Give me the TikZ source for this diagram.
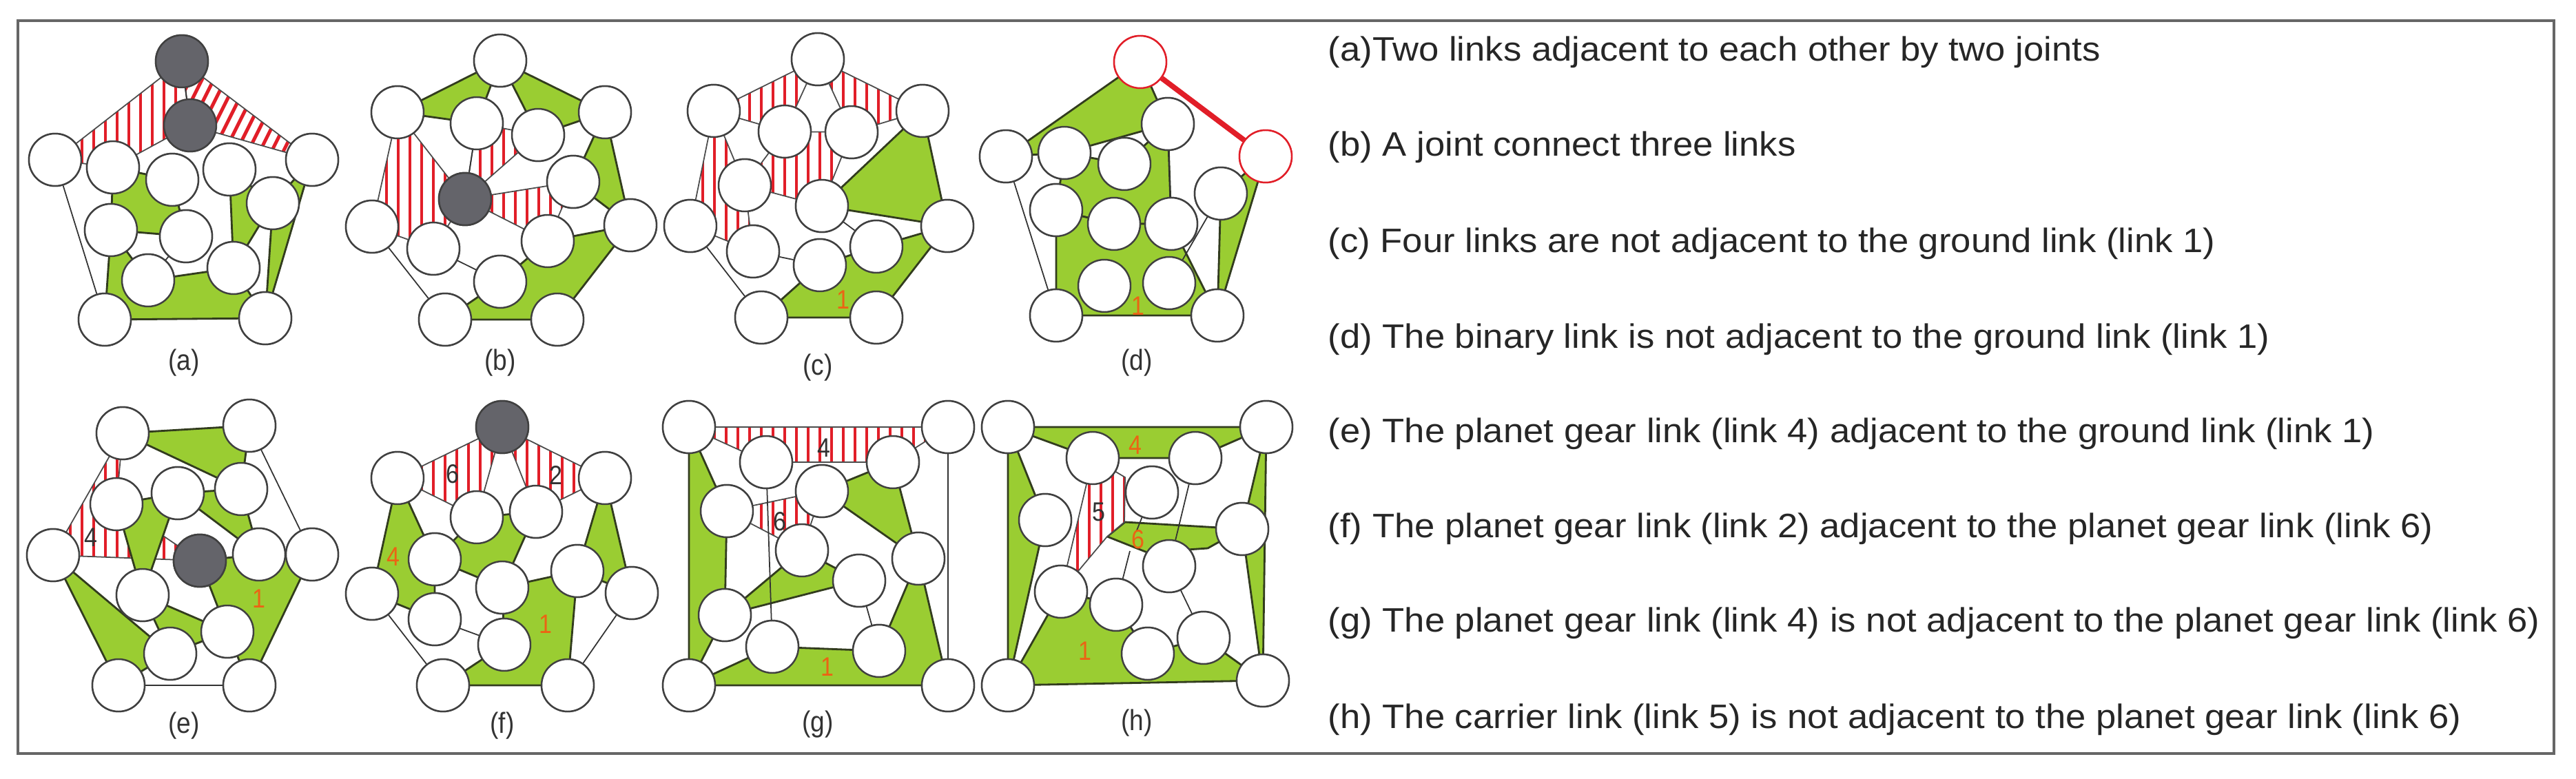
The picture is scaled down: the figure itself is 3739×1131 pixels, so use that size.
\documentclass[tikz,border=0pt]{standalone}
\usepackage{fontspec}
\setmainfont{Liberation Sans}
\newfontfamily\capfont{Liberation Sans}[FakeStretch=0.88]
\newfontfamily\txtfont{Liberation Sans}[FakeStretch=1.07]
\begin{document}
\definecolor{lgreen}{RGB}{154,205,50}
\definecolor{dkgreen}{RGB}{50,60,30}
\definecolor{hred}{RGB}{225,30,40}
\definecolor{jgray}{RGB}{100,100,106}
\definecolor{numor}{RGB}{235,100,20}
\newcommand\hpoly[1]{%
  \fill[white] #1;
  \begin{scope}\clip #1;
    \foreach \x in {0,17,...,3740} \draw[hline] (\x,0)--(\x,1131);
  \end{scope}
  \draw[hedge] #1;}
\newcommand\dpoly[1]{%
  \fill[white] #1;
  \begin{scope}\clip #1;
    \foreach \x in {0,17,...,1200} \draw[hline] (\x,600)--(\x+400,-200);
  \end{scope}
  \draw[hedge] #1;}
\begin{tikzpicture}[x=0.1mm,y=-0.1mm,
  jt/.style={circle,draw=black!75,fill=white,line width=0.7pt,minimum size=7.6mm,inner sep=0pt},
  gj/.style={jt,fill=jgray},
  rj/.style={jt,draw=hred},
  link/.style={fill=lgreen,draw=dkgreen,line width=0.8pt,line join=round},
  hline/.style={draw=hred,line width=1.4pt},
  hedge/.style={draw=black!70,line width=0.5pt},
  bin/.style={draw=black!80,line width=0.5pt},
  lab/.style={font=\fontsize{12}{14}\selectfont\capfont,text=black!80},
  num/.style={font=\fontsize{11}{12}\selectfont\capfont,text=numor},
  bnum/.style={font=\fontsize{11}{12}\selectfont\capfont,text=black!80},
  txt/.style={font=\fontsize{14}{16}\selectfont\txtfont,text=black!85,anchor=west,inner sep=0pt}]
\useasboundingbox (0,0) rectangle (3739,1131);
\draw[black!60,line width=1.2pt] (26,30) rectangle (3707,1094);
% ================= (a)
\path (264,89) node[gj] (a1) {} (276,182) node[gj] (a2) {} (80,232) node[jt] (a3) {}
 (164,243) node[jt] (a4) {} (250,261) node[jt] (a5) {} (333,246) node[jt] (a6) {}
 (453,232) node[jt] (a7) {} (396,295) node[jt] (a8) {} (161,334) node[jt] (a9) {}
 (270,343) node[jt] (a10) {} (215,407) node[jt] (a11) {} (339,389) node[jt] (a12) {}
 (152,464) node[jt] (a13) {} (385,462) node[jt] (a14) {};
\hpoly{(a1.center)--(a3.center)--(a4.center)--(a2.center)--cycle}
\dpoly{(a1.center)--(a7.center)--(a2.center)--cycle}
\draw[link] (a4.center)--(a5.center)--(a10.center)--(a9.center)--cycle;
\draw[link] (a6.center)--(a8.center)--(a12.center)--cycle;
\draw[link] (a7.center)--(a14.center)--(a8.center)--cycle;
\draw[link] (a13.center)--(a9.center)--(a11.center)--(a12.center)--(a14.center)--cycle;
\draw[bin] (a3)--(a13); \draw[bin] (a10)--(a11); \draw[bin] (a1)--(a2);
\path (a1) node[gj] {} (a2) node[gj] {};
\foreach \n in {3,...,14} \node[jt] at (a\n) {};
\node[lab] (la) at (267,527) {(a)};
% ================= (b)
\path (726,88) node[jt] (b1) {} (577,163) node[jt] (b2) {} (878,163) node[jt] (b3) {}
 (692,179) node[jt] (b4) {} (781,196) node[jt] (b5) {} (675,289) node[gj] (b6) {}
 (832,264) node[jt] (b7) {} (540,329) node[jt] (b8) {} (629,361) node[jt] (b9) {}
 (795,350) node[jt] (b10) {} (726,409) node[jt] (b11) {} (646,464) node[jt] (b12) {}
 (809,464) node[jt] (b13) {} (915,327) node[jt] (b14) {};
\draw[link] (b2.center)--(b1.center)--(b4.center)--cycle;
\draw[link] (b1.center)--(b3.center)--(b5.center)--cycle;
\draw[link] (b3.center)--(b14.center)--(b7.center)--cycle;
\draw[link] (b11.center)--(b10.center)--(b14.center)--(b13.center)--(b12.center)--cycle;
\hpoly{(b2.center)--(b6.center)--(b9.center)--(b8.center)--cycle}
\hpoly{(b4.center)--(b5.center)--(b6.center)--cycle}
\hpoly{(b6.center)--(b7.center)--(b10.center)--cycle}
\draw[bin] (b8)--(b12); \draw[bin] (b9)--(b11); \draw[bin] (b4)--(b6);
\foreach \n in {1,...,14} \node[jt] at (b\n) {};
\node[gj] at (b6) {};
\node[lab] (lb) at (726,527) {(b)};
% ================= (c)
\path (1187,86) node[jt] (c1) {} (1036,161) node[jt] (c2) {} (1339,161) node[jt] (c3) {}
 (1139,191) node[jt] (c4) {} (1236,192) node[jt] (c5) {} (1081,269) node[jt] (c6) {}
 (1193,299) node[jt] (c7) {} (1002,328) node[jt] (c8) {} (1375,328) node[jt] (c9) {}
 (1093,365) node[jt] (c10) {} (1272,358) node[jt] (c11) {} (1190,385) node[jt] (c12) {}
 (1105,461) node[jt] (c13) {} (1272,461) node[jt] (c14) {};
\hpoly{(c1.center)--(c2.center)--(c4.center)--cycle}
\hpoly{(c1.center)--(c3.center)--(c5.center)--cycle}
\hpoly{(c2.center)--(c6.center)--(c10.center)--(c8.center)--cycle}
\hpoly{(c4.center)--(c5.center)--(c7.center)--(c6.center)--cycle}
\draw[link] (c3.center)--(c9.center)--(c7.center)--cycle;
\draw[link] (c13.center)--(c12.center)--(c11.center)--(c9.center)--(c14.center)--cycle;
\draw[bin] (c8)--(c13); \draw[bin] (c10)--(c12); \draw[bin] (c7)--(c11);
\foreach \n in {1,...,14} \node[jt] at (c\n) {};
\node[num] at (1224,435) {1};
\node[lab] (lc) at (1187,534) {(c)};
% ================= (d)
\path (1655,90) node[rj] (d1) {} (1837,227) node[rj] (d2) {} (1695,180) node[jt] (d3) {}
 (1632,238) node[jt] (d4) {} (1545,222) node[jt] (d5) {} (1460,227) node[jt] (d6) {}
 (1533,305) node[jt] (d7) {} (1617,325) node[jt] (d8) {} (1700,325) node[jt] (d9) {}
 (1772,281) node[jt] (d10) {} (1603,415) node[jt] (d11) {} (1697,411) node[jt] (d12) {}
 (1533,458) node[jt] (d13) {} (1767,458) node[jt] (d14) {};
\draw[link] (d1.center)--(d3.center)--(d5.center)--(d6.center)--cycle;
\draw[link] (d5.center)--(d4.center)--(d3.center)--(d9.center)--(d8.center)--(d7.center)--cycle;
\draw[link] (d13.center)--(d7.center)--(d8.center)--(d9.center)--(d14.center)--cycle;
\draw[link] (d2.center)--(d10.center)--(d14.center)--cycle;
\draw[hred,line width=2.2pt] (d1)--(d2);
\draw[bin] (d6)--(d13); \draw[bin] (d10)--(d12); \draw[bin] (d3)--(d9);
\foreach \n in {3,...,14} \node[jt] at (d\n) {};
\path (d1) node[rj] {} (d2) node[rj] {};
\node[num] at (1652,444) {1};
\node[lab] (ld) at (1650,527) {(d)};
% ================= (e)
\path (178,629) node[jt] (e1) {} (362,618) node[jt] (e2) {} (169,732) node[jt] (e3) {}
 (258,716) node[jt] (e4) {} (350,710) node[jt] (e5) {} (77,806) node[jt] (e6) {}
 (290,814) node[gj] (e7) {} (376,805) node[jt] (e8) {} (453,805) node[jt] (e9) {}
 (207,864) node[jt] (e10) {} (330,917) node[jt] (e11) {} (247,949) node[jt] (e12) {}
 (172,995) node[jt] (e13) {} (362,995) node[jt] (e14) {};
\draw[link] (e1.center)--(e2.center)--(e5.center)--cycle;
\hpoly{(e1.center)--(e6.center)--(e7.center)--(e3.center)--cycle}
\draw[link] (e3.center)--(e4.center)--(e10.center)--cycle;
\draw[link] (e4.center)--(e5.center)--(e8.center)--cycle;
\draw[link] (e7.center)--(e8.center)--(e9.center)--(e14.center)--(e11.center)--cycle;
\draw[link] (e6.center)--(e12.center)--(e13.center)--cycle;
\draw[link] (e10.center)--(e11.center)--(e12.center)--cycle;
\draw[bin] (e2)--(e9); \draw[bin] (e13)--(e14);
\foreach \n in {1,...,14} \node[jt] at (e\n) {};
\node[gj] at (e7) {};
\node[bnum] at (132,780) {4};
\node[num] at (376,869) {1};
\node[lab] (le) at (267,1054) {(e)};
% ================= (f)
\path (729,620) node[gj] (f1) {} (577,694) node[jt] (f2) {} (878,694) node[jt] (f3) {}
 (692,751) node[jt] (f4) {} (778,743) node[jt] (f5) {} (631,812) node[jt] (f6) {}
 (540,862) node[jt] (f7) {} (729,853) node[jt] (f8) {} (838,829) node[jt] (f9) {}
 (631,899) node[jt] (f10) {} (732,936) node[jt] (f11) {} (643,995) node[jt] (f12) {}
 (824,995) node[jt] (f13) {} (917,861) node[jt] (f14) {};
\hpoly{(f1.center)--(f2.center)--(f4.center)--cycle}
\hpoly{(f1.center)--(f3.center)--(f5.center)--cycle}
\draw[link] (f2.center)--(f6.center)--(f10.center)--(f7.center)--cycle;
\draw[link] (f4.center)--(f5.center)--(f8.center)--(f6.center)--cycle;
\draw[link] (f8.center)--(f9.center)--(f13.center)--(f12.center)--(f11.center)--cycle;
\draw[link] (f3.center)--(f14.center)--(f9.center)--cycle;
\draw[bin] (f7)--(f12); \draw[bin] (f10)--(f11); \draw[bin] (f14)--(f13);
\foreach \n in {2,...,14} \node[jt] at (f\n) {};
\node[gj] at (f1) {};
\node[bnum] at (657,688) {6}; \node[bnum] at (807,690) {2};
\node[num] at (571,808) {4}; \node[num] at (792,906) {1};
\node[lab] (lf) at (729,1054) {(f)};
% ================= (g)
\path (1000,620) node[jt] (g1) {} (1376,620) node[jt] (g2) {} (1112,671) node[jt] (g3) {}
 (1296,671) node[jt] (g4) {} (1193,713) node[jt] (g5) {} (1055,742) node[jt] (g6) {}
 (1164,799) node[jt] (g7) {} (1333,811) node[jt] (g8) {} (1247,843) node[jt] (g9) {}
 (1052,893) node[jt] (g10) {} (1121,939) node[jt] (g11) {} (1276,945) node[jt] (g12) {}
 (1000,995) node[jt] (g13) {} (1376,995) node[jt] (g14) {};
\draw[link] (g1.center)--(g6.center)--(g10.center)--(g13.center)--cycle;
\draw[link] (g10.center)--(g7.center)--(g9.center)--cycle;
\draw[link] (g5.center)--(g4.center)--(g8.center)--cycle;
\draw[link] (g13.center)--(g11.center)--(g12.center)--(g8.center)--(g14.center)--cycle;
\hpoly{(g1.center)--(g2.center)--(g4.center)--(g3.center)--cycle}
\hpoly{(g6.center)--(g5.center)--(g7.center)--cycle}
\draw[bin] (g2)--(g14); \draw[bin] (g3)--(g11); \draw[bin] (g9)--(g12);
\foreach \n in {1,...,14} \node[jt] at (g\n) {};
\node[bnum] at (1196,650) {4}; \node[bnum] at (1132,757) {6};
\node[num] at (1201,968) {1};
\node[lab] (lg) at (1187,1052) {(g)};
% ================= (h)
\path (1463,620) node[jt] (h1) {} (1838,620) node[jt] (h2) {} (1586,665) node[jt] (h3) {}
 (1735,665) node[jt] (h4) {} (1517,755) node[jt] (h5) {} (1672,715) node[jt] (h6) {}
 (1803,768) node[jt] (h7) {} (1540,859) node[jt] (h8) {} (1697,822) node[jt] (h9) {}
 (1620,878) node[jt] (h10) {} (1666,949) node[jt] (h11) {} (1747,926) node[jt] (h12) {}
 (1463,995) node[jt] (h13) {} (1833,988) node[jt] (h14) {};
\draw[link] (h1.center)--(h2.center)--(h4.center)--(h3.center)--cycle;
\draw[link] (h1.center)--(h5.center)--(h13.center)--cycle;
\draw[link] (h13.center)--(h8.center)--(h10.center)--(h11.center)--(h12.center)--(h14.center)--cycle;
\draw[link] (h2.center)--(h7.center)--(h14.center)--cycle;
\draw[link] (1607,779)--(1633,758)--(h7.center)--(1753,796)--(1665,802)--cycle;
\hpoly{(h3.center)--(1633,693)--(1632,758)--(1607,779)--(h8.center)--cycle}
\draw[bin] (h4)--(h9); \draw[bin] (h9)--(h12); \draw[bin] (h11)--(h10);
\draw[bin] (h10)--(1640,800); \draw[bin] (h6)--(1650,770);
\foreach \n in {1,...,14} \node[jt] at (h\n) {};
\node[num] at (1648,646) {4}; \node[bnum] at (1595,743) {5};
\node[num] at (1652,783) {6}; \node[num] at (1575,945) {1};
\node[lab] (lh) at (1650,1050) {(h)};
% ================= captions
\node[txt] (t1) at (1927,76) {(a)Two links adjacent to each other by two joints};
\node[txt] (t2) at (1927,214) {(b) A joint connect three links};
\node[txt] (t3) at (1927,354) {(c) Four links are not adjacent to the ground link (link 1)};
\node[txt] (t4) at (1927,493) {(d) The binary link is not adjacent to the ground link (link 1)};
\node[txt] (t5) at (1927,630) {(e) The planet gear link (link 4) adjacent to the ground link (link 1)};
\node[txt] (t6) at (1927,768) {(f) The planet gear link (link 2) adjacent to the planet gear link (link 6)};
\node[txt] (t7) at (1927,905) {(g) The planet gear link (link 4) is not adjacent to the planet gear link (link 6)};
\node[txt] (t8) at (1927,1045) {(h) The carrier link (link 5) is not adjacent to the planet gear link (link 6)};
\end{tikzpicture}
\end{document}
